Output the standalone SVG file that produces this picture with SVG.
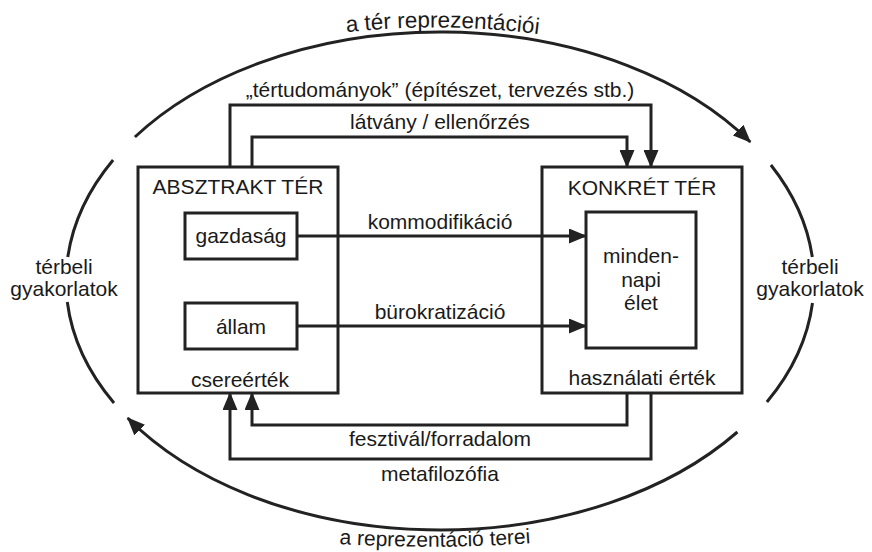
<svg xmlns="http://www.w3.org/2000/svg" width="872" height="552" viewBox="0 0 872 552">
<style>
text{font-family:"Liberation Sans",Arial,Helvetica,sans-serif;font-size:21px;fill:#1a1a1a;text-anchor:middle}
.box{fill:#fff;stroke:#222;stroke-width:3}
.ln{fill:none;stroke:#222;stroke-width:3}
</style>
<defs>
<marker id="ah" markerUnits="userSpaceOnUse" viewBox="0 0 18 15" refX="17" refY="7.5" markerWidth="18" markerHeight="15" orient="auto">
<path d="M0,0 L18,7.5 L0,15 Z" fill="#222"/>
</marker>
<path id="topTxt" d="M325,35 Q440,19 560,37"/>
<path id="botTxt" d="M325,543 Q434,551 545,542"/>
</defs>
<g id="ellipse" class="ln">
<path d="M134.9,137 A374,249 0 0 1 750.3,142" marker-end="url(#ah)"/>
<path d="M770.9,165 A374,249 0 0 1 812.3,257"/>
<path d="M812.5,303 A374,249 0 0 1 766.9,402"/>
<path d="M737.4,432 A374,249 0 0 1 127.7,418" marker-end="url(#ah)"/>
<path d="M114,403 A374,249 0 0 1 67.3,302"/>
<path d="M67.8,257 A374,249 0 0 1 113.1,160"/>
</g>
<g id="ellipse-labels">
<text style="font-size:22.5px"><textPath href="#topTxt" startOffset="50%">a tér reprezentációi</textPath></text>
<text><textPath href="#botTxt" startOffset="50%">a reprezentáció terei</textPath></text>
<text x="64" y="274">térbeli</text>
<text x="64" y="296">gyakorlatok</text>
<text x="810" y="274">térbeli</text>
<text x="810" y="296">gyakorlatok</text>
</g>
<g id="absztrakt">
<rect class="box" x="138" y="167" width="200" height="226"/>
<text x="238" y="194">ABSZTRAKT TÉR</text>
<text x="240" y="387">csereérték</text>
</g>
<g id="konkret">
<rect class="box" x="542" y="167" width="200" height="226"/>
<text x="642" y="195">KONKRÉT TÉR</text>
<text x="642" y="385">használati érték</text>
</g>
<g id="gazdasag">
<rect class="box" x="185" y="213" width="112" height="46"/>
<text x="241" y="243">gazdaság</text>
</g>
<g id="allam">
<rect class="box" x="185" y="303" width="112" height="46"/>
<text x="241" y="334">állam</text>
</g>
<g id="mindennapi">
<rect class="box" x="586" y="212" width="110" height="136"/>
<text x="641" y="263">minden-</text>
<text x="641" y="287">napi</text>
<text x="641" y="310">élet</text>
</g>
<g id="connectors" class="ln">
<path d="M230,167 V105 H651 V167" marker-end="url(#ah)"/>
<path d="M252,167 V137 H627 V167" marker-end="url(#ah)"/>
<path d="M297,236 H586" marker-end="url(#ah)"/>
<path d="M297,326 H586" marker-end="url(#ah)"/>
<path d="M627,393 V425 H252 V393" marker-end="url(#ah)"/>
<path d="M651,393 V459 H230 V393" marker-end="url(#ah)"/>
</g>
<g id="connector-labels">
<text x="440" y="97">„tértudományok” (építészet, tervezés stb.)</text>
<text x="440" y="129">látvány / ellenőrzés</text>
<text x="440" y="229">kommodifikáció</text>
<text x="440" y="319">bürokratizáció</text>
<text x="440" y="446">fesztivál/forradalom</text>
<text x="440" y="481">metafilozófia</text>
</g>
</svg>
